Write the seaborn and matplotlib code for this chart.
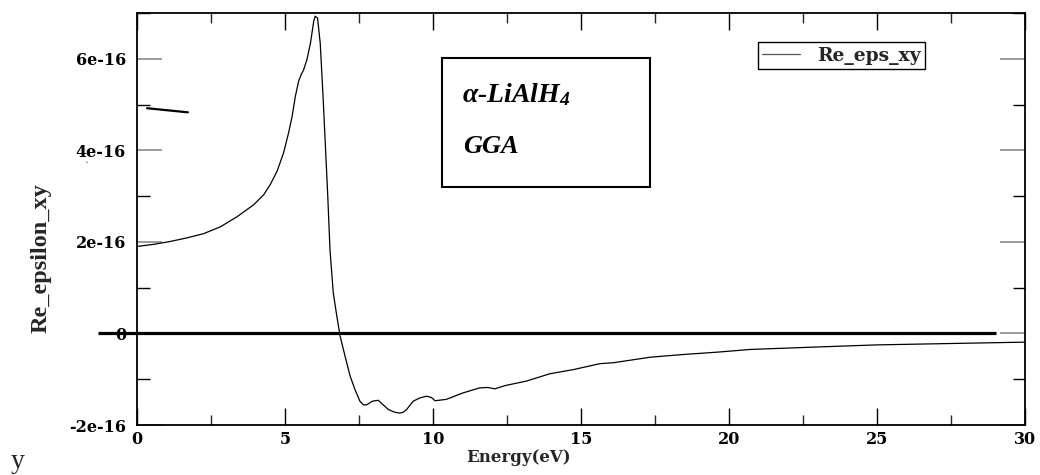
import numpy as np
import pandas as pd
import matplotlib
matplotlib.use("Agg")
import matplotlib.pyplot as plt
from matplotlib.patches import Rectangle
from matplotlib.ticker import MultipleLocator
import seaborn as sns

# Real part of the off-diagonal dielectric component (units of 1e-16)
energy_ev = [0.00, 0.60, 1.13, 1.70, 2.25, 2.82, 3.38, 3.94, 4.28, 4.50,
             4.73, 4.95, 5.12, 5.24, 5.35, 5.46, 5.55, 5.63, 5.74, 5.86,
             5.97, 6.02, 6.10, 6.19, 6.28, 6.36, 6.44, 6.52, 6.63, 6.75,
             6.86, 7.03, 7.20, 7.36, 7.53, 7.65, 7.76, 7.95, 8.15, 8.30,
             8.49, 8.70, 8.88, 9.00, 9.11, 9.33, 9.55, 9.78, 9.95, 10.07,
             10.45, 11.01, 11.57, 11.85, 12.09, 12.43, 13.16, 13.95, 14.74, 15.64,
             16.09, 17.33, 18.45, 19.58, 20.71, 22.80, 24.99, 27.47, 30.00]
re_eps_xy_e16 = [1.90, 1.95, 2.01, 2.09, 2.18, 2.33, 2.55, 2.81, 3.03, 3.25,
                 3.54, 3.94, 4.38, 4.74, 5.18, 5.51, 5.66, 5.76, 5.98, 6.34,
                 6.82, 6.93, 6.89, 6.34, 5.25, 4.16, 3.07, 1.83, 0.89, 0.38,
                 -0.05, -0.50, -0.93, -1.22, -1.48, -1.56, -1.56, -1.48, -1.46, -1.55,
                 -1.66, -1.72, -1.74, -1.72, -1.66, -1.48, -1.41, -1.37, -1.40, -1.47,
                 -1.44, -1.30, -1.19, -1.18, -1.21, -1.14, -1.04, -0.88, -0.79, -0.66,
                 -0.64, -0.52, -0.46, -0.41, -0.35, -0.30, -0.25, -0.22, -0.19]

# Reference lines: zero baseline and a short stroke near the upper left
zero_line_x = [-1.32, 29.02]
zero_line_y = [0.0, 0.0]
stroke_x = [0.34, 1.72]
stroke_y_e16 = [4.92, 4.83]

x_ticks = [0, 5, 10, 15, 20, 25, 30]
x_tick_labels = ["0", "5", "10", "15", "20", "25", "30"]
y_ticks_e16 = [-2, 0, 2, 4, 6]
y_tick_labels = ["-2e-16", "0", "2e-16", "4e-16", "6e-16"]

scale = 1e-16
df = pd.DataFrame({"Energy": energy_ev,
                   "Re_eps_xy": np.array(re_eps_xy_e16) * scale})

sns.set_theme(style="ticks")
plt.rcParams["mathtext.fontset"] = "custom"
plt.rcParams["mathtext.rm"] = "Liberation Serif:italic:bold"
plt.rcParams["mathtext.it"] = "Liberation Serif:italic:bold"

fig = plt.figure(figsize=(10.4, 4.75), dpi=100)
ax = fig.add_axes([137 / 1040, 50 / 475, 888 / 1040, 412 / 475])

sns.lineplot(data=df, x="Energy", y="Re_eps_xy", ax=ax, color="black",
             linewidth=0.9, estimator=None, label="Re_eps_xy")

ax.plot(zero_line_x, zero_line_y, color="black", linewidth=2.3,
        clip_on=False, solid_capstyle="butt")
ax.plot(stroke_x, np.array(stroke_y_e16) * scale, color="black", linewidth=1.6)

ax.set_xlim(0, 30)
ax.set_ylim(-2e-16, 7e-16)

serif_bold = {"family": "DejaVu Serif", "weight": "bold", "size": 11.5}
ax.set_xticks(x_ticks)
ax.set_xticklabels(x_tick_labels, fontdict=serif_bold)
ax.set_yticks(np.array(y_ticks_e16) * scale)
ax.set_yticklabels(y_tick_labels, fontdict=serif_bold)
ax.xaxis.set_minor_locator(MultipleLocator(2.5))
ax.yaxis.set_minor_locator(MultipleLocator(1e-16))

ax.tick_params(axis="x", which="major", direction="in", length=12, width=1,
               top=True, bottom=True, pad=4, colors="black")
ax.tick_params(axis="x", which="minor", direction="in", length=7, width=1,
               top=True, bottom=True)
ax.tick_params(axis="y", which="major", direction="in", length=18, width=1.2,
               left=True, right=True, pad=8, color="#8a8a8a", labelcolor="black")
ax.tick_params(axis="y", which="minor", direction="in", length=9, width=1,
               left=True, right=True, color="black")

for side in ["left", "right", "top", "bottom"]:
    ax.spines[side].set_visible(True)
    ax.spines[side].set_color("black")
    ax.spines[side].set_linewidth(1.3)

ax.set_xlabel("Energy(eV)", fontdict={"family": "DejaVu Serif",
                                      "weight": "bold", "size": 12})
ax.xaxis.label.set_va("center")
ax.xaxis.set_label_coords(0.43, -0.078)

ax.set_ylabel("Re_epsilon_xy", fontdict={"family": "Liberation Serif",
                                         "weight": "bold", "size": 17.5})
ax.yaxis.label.set_va("center")
ax.yaxis.set_label_coords(-0.108, 0.405)

leg = ax.legend(loc="upper left", bbox_to_anchor=(0.699, 0.930),
                frameon=True, fancybox=False, framealpha=1, edgecolor="black",
                borderpad=0.25, handlelength=2.0, handletextpad=0.9,
                borderaxespad=0,
                prop={"family": "DejaVu Serif", "weight": "bold", "size": 13.5})
leg.get_frame().set_linewidth(1.0)
for line in leg.get_lines():
    line.set_color("#555555")
    line.set_linewidth(0.9)

# Annotation box with compound and functional
ax.add_patch(Rectangle((0.3435, 0.578), 0.2342, 0.313, transform=ax.transAxes,
                       fill=False, edgecolor="black", linewidth=1.5))
ax.text(0.366, 0.784, "α-LiAlH$_4$", transform=ax.transAxes, va="baseline",
        ha="left", family="Liberation Serif", style="italic", weight="bold",
        size=20, color="black")
ax.text(0.367, 0.660, "GGA", transform=ax.transAxes, va="baseline",
        ha="left", family="Liberation Serif", style="italic", weight="bold",
        size=19, color="black")

fig.text(87 / 1040, 1 - 167 / 475, "`", family="DejaVu Serif", size=7,
         ha="center", va="center")
fig.text(18 / 1040, 1 - 461 / 475, "y", family="Liberation Serif", size=20,
         ha="center", va="center")

fig.savefig("out.png", dpi=100, facecolor="white")
